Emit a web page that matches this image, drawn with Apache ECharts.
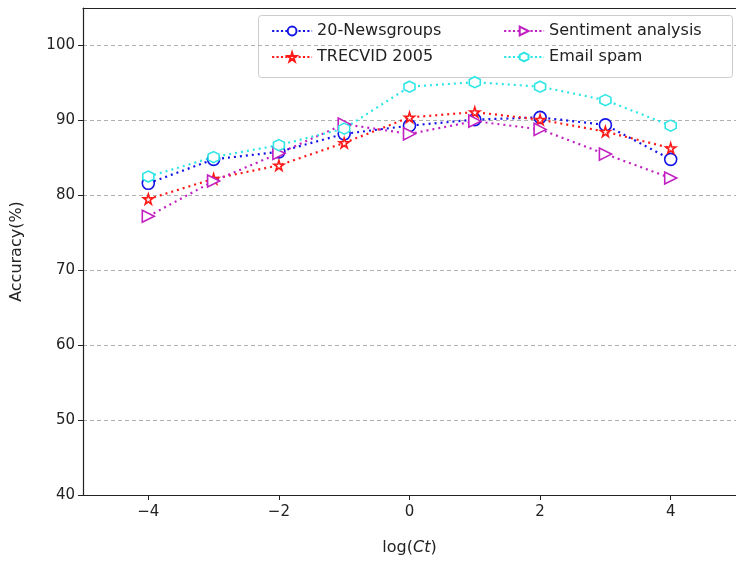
<!DOCTYPE html>
<html>
<head>
<meta charset="utf-8">
<script src="https://cdn.jsdelivr.net/npm/echarts@6/dist/echarts.min.js"></script>
<style>
  html, body { margin: 0; padding: 0; background: #fff; }
  #chart { width: 736px; height: 562px; }
</style>
</head>
<body>
<div id="chart"></div>
<script>
// log(Ct) values and accuracy per dataset
var logCt = [-4, -3, -2, -1, 0, 1, 2, 3, 4];
var newsgroups = [81.6, 84.8, 85.8, 88.2, 89.3, 90.1, 90.4, 89.4, 84.8];
var trecvid = [79.5, 82.2, 84.0, 87.0, 90.4, 91.1, 90.1, 88.5, 86.3];
var sentiment = [77.2, 81.9, 85.6, 89.5, 88.2, 89.9, 88.8, 85.5, 82.3];
var emailSpam = [82.5, 85.1, 86.7, 88.9, 94.5, 95.1, 94.5, 92.7, 89.3];
var xTicks = [-4, -2, 0, 2, 4];

var starPath = 'path://M50,0 L61,35 L98,35 L68,57 L79,91 L50,70 L21,91 L32,57 L2,35 L39,35 Z';
var hexPath = 'path://M50,0 L93,25 L93,75 L50,100 L7,75 L7,25 Z';
var font = 'DejaVu Sans';

function pairs(ys) {
  return logCt.map(function(x, i) { return [x, ys[i]]; });
}

function mkSeries(name, ys, color, symbol, size, rotate) {
  return {
    name: name,
    type: 'line',
    data: pairs(ys),
    symbol: symbol,
    symbolSize: size,
    symbolRotate: rotate || 0,
    showAllSymbol: true,
    lineStyle: { color: color, width: 2.2, type: [2, 4] },
    itemStyle: { color: '#fff', borderColor: color, borderWidth: 1.6 },
    emphasis: { disabled: true },
    z: 3
  };
}

var minus = function(v) { return String(v).replace('-', '\u2212'); };

var legendBase = {
  orient: 'vertical', top: 18, itemGap: 10, itemWidth: 40, itemHeight: 11,
  lineStyle: { type: 'dotted', width: 2.2 },
  textStyle: { fontSize: 16, color: '#222', fontFamily: font }
};

var chart = echarts.init(document.getElementById('chart'));
var option = {
  animation: false,
  textStyle: { fontFamily: font },
  grid: { left: 83, top: 8, right: -4, bottom: 67 },
  legend: [
    Object.assign({}, legendBase, { left: 266, data: ['20-Newsgroups', 'TRECVID 2005'] }),
    Object.assign({}, legendBase, { left: 498, data: ['Sentiment analysis', 'Email spam'] })
  ],
  graphic: [{
    type: 'rect', left: 258, top: 15, z: 0,
    shape: { width: 474, height: 62, r: 3 },
    style: { fill: 'rgba(255,255,255,0.85)', stroke: '#ccc', lineWidth: 1 }
  }],
  xAxis: [{
    type: 'value', min: -5, max: 5,
    name: 'log({i|Ct})',
    nameLocation: 'middle', nameGap: 45,
    nameTextStyle: {
      fontSize: 16, color: '#222', fontFamily: font,
      rich: { i: { fontStyle: 'italic', fontSize: 16, color: '#222', fontFamily: font } }
    },
    axisLine: { show: true, onZero: false, lineStyle: { color: '#222', width: 1.2 } },
    axisTick: { show: true, length: 5, customValues: xTicks, lineStyle: { color: '#222' } },
    axisLabel: { fontSize: 15, color: '#222', margin: 10, customValues: xTicks, formatter: minus },
    splitLine: { show: false }
  }, {
    // top frame line
    type: 'value', min: -5, max: 5, position: 'top',
    axisLine: { show: true, onZero: false, lineStyle: { color: '#222', width: 1.2 } },
    axisTick: { show: false }, axisLabel: { show: false }, splitLine: { show: false }
  }],
  yAxis: {
    type: 'value', min: 40, max: 105, interval: 10,
    name: 'Accuracy(%)',
    nameLocation: 'middle', nameGap: 58,
    nameTextStyle: { fontSize: 16, color: '#222', fontFamily: font },
    axisLine: { show: true, onZero: false, lineStyle: { color: '#222', width: 1.2 } },
    axisTick: { show: true, length: 5, lineStyle: { color: '#222' } },
    axisLabel: { fontSize: 15, color: '#222', margin: 8, showMaxLabel: false },
    splitLine: { show: true, lineStyle: { color: '#b0b0b0', type: [4, 3], width: 1 } }
  },
  series: [
    mkSeries('20-Newsgroups', newsgroups, '#1414e6', 'circle', 12),
    mkSeries('TRECVID 2005', trecvid, '#ff1a1a', starPath, 10),
    mkSeries('Sentiment analysis', sentiment, '#c21fc2', 'triangle', 12, -90),
    mkSeries('Email spam', emailSpam, '#2ee6e6', hexPath, 11)
  ]
};
chart.setOption(option);
</script>
</body>
</html>
